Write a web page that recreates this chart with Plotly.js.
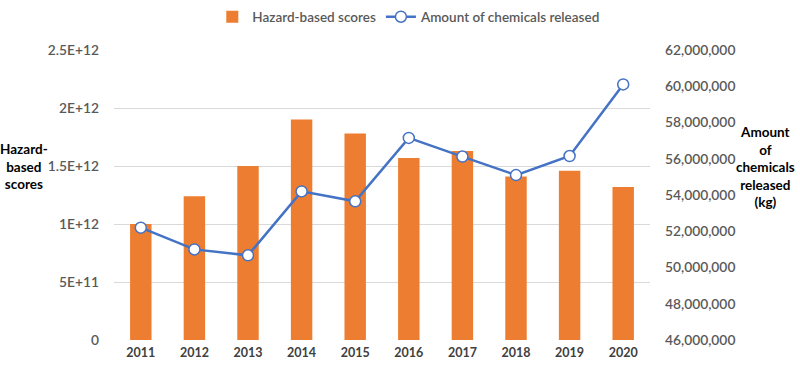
<!DOCTYPE html>
<html><head><meta charset="utf-8">
<script src="https://cdn.plot.ly/plotly-3.0.1.min.js"></script>
<style>html,body{margin:0;padding:0;background:#fff}#c{width:800px;height:371px}</style>
</head><body><div id="c"></div>
<script>
const years = ['2011','2012','2013','2014','2015','2016','2017','2018','2019','2020'];
const hazardScores = [1.00e12, 1.24e12, 1.50e12, 1.90e12, 1.78e12, 1.57e12, 1.63e12, 1.41e12, 1.46e12, 1.32e12];
const chemicalsReleased = [52.2e6, 51.0e6, 50.67e6, 54.2e6, 53.65e6, 57.15e6, 56.12e6, 55.1e6, 56.15e6, 60.1e6];
const leftTickVals = [0, 5e11, 1e12, 1.5e12, 2e12, 2.5e12];
const leftTickText = ['0', '5E+11', '1E+12', '1.5E+12', '2E+12', '2.5E+12'];

const FF = 'Lato, "Open Sans", sans-serif';
const tickFont = {family: FF, size: 13.8, color: '#595959', weight: 600};

const traces = [
  {type: 'bar', x: years, y: hazardScores, name: 'Hazard-based scores',
   marker: {color: '#ED7D31'}, yaxis: 'y'},
  {type: 'scatter', mode: 'lines+markers', x: years, y: chemicalsReleased,
   name: 'Amount of chemicals released', yaxis: 'y2',
   line: {color: '#4472C4', width: 2.5},
   marker: {size: 11, color: '#ffffff', line: {color: '#4472C4', width: 1.5}}}
];

const layout = {
  width: 800, height: 371,
  margin: {l: 114, r: 150, t: 50, b: 31, autoexpand: false},
  paper_bgcolor: '#fff', plot_bgcolor: '#fff',
  bargap: 0.6,
  showlegend: true,
  legend: {orientation: 'h', x: 0.55, xanchor: 'center', y: 1.114, yanchor: 'middle',
           font: {family: FF, size: 13.5, color: '#595959', weight: 600},
           tracegroupgap: 0},
  xaxis: {type: 'category', range: [-0.5, 9.5], showgrid: false, zeroline: false, showline: false,
          ticks: '', tickfont: {family: FF, size: 12.5, color: '#404040', weight: 700},
          ticklabelstandoff: 3},
  yaxis: {range: [0, 2.5e12], tickvals: leftTickVals, ticktext: leftTickText,
          showgrid: true, gridcolor: '#d9d9d9', gridwidth: 1, zeroline: false, showline: false,
          ticks: '', tickfont: tickFont, ticklabelstandoff: 14},
  yaxis2: {range: [46e6, 62e6], dtick: 2e6, tickformat: ',d', overlaying: 'y', side: 'right',
           showgrid: false, zeroline: false, showline: false, ticks: '', tickfont: tickFont,
           ticklabelstandoff: 14},
  annotations: [
    {text: '<b>Hazard-</b><br><b>based</b><br><b>scores</b>', xref: 'paper', yref: 'paper',
     x: -0.167, y: 0.6, xanchor: 'center', yanchor: 'middle', showarrow: false,
     font: {family: FF, size: 13.5, color: '#000'}, align: 'center'},
    {text: '<b>Amount</b><br><b>of</b><br><b>chemicals</b><br><b>released</b><br><b>(kg)</b>', xref: 'paper', yref: 'paper',
     x: 1.215, y: 0.595, xanchor: 'center', yanchor: 'middle', showarrow: false,
     font: {family: FF, size: 13.5, color: '#000'}, align: 'center'}
  ]
};

Plotly.newPlot('c', traces, layout, {displayModeBar: false, staticPlot: true});
</script>
</body></html>
